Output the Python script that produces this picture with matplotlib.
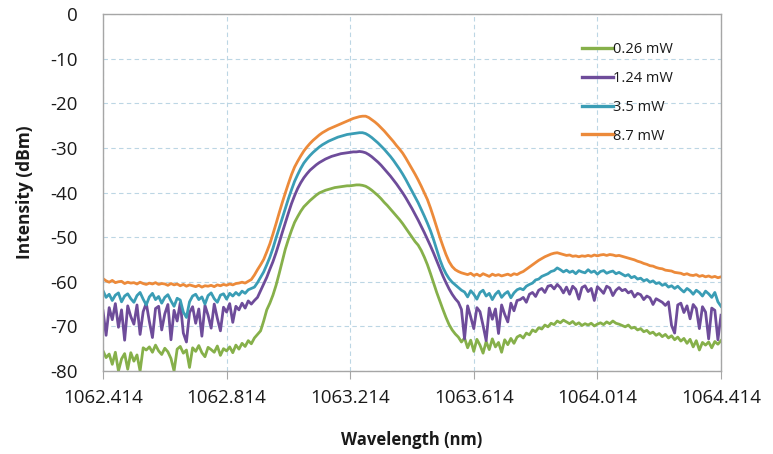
import numpy as np
import matplotlib
matplotlib.use("Agg")
import matplotlib.pyplot as plt

plt.rcParams['font.family'] = ['Open Sans', 'DejaVu Sans']
plt.rcParams['axes.unicode_minus'] = False

wl_start = 1062.414
wl_step = 0.01

series_labels = ["0.26 mW", "1.24 mW", "3.5 mW", "8.7 mW"]
series_colors = ["#86B04A", "#6E4C9A", "#3A9DB5", "#EC8A3A"]

p026 = [
    -75.5, -77.0, -76.2, -78.5, -75.8, -80.0, -77.3, -76.1, -79.6, -75.9,
    -77.8, -76.4, -80.0, -74.8, -75.3, -74.6, -75.8, -74.2, -75.5, -76.3,
    -74.9, -75.7, -77.2, -80.0, -75.1, -74.5, -76.0, -75.3, -79.2, -74.8,
    -75.6, -74.3, -75.9, -76.8, -74.7, -75.2, -75.8, -74.4, -76.5, -75.0,
    -75.5, -74.6, -75.9, -74.2, -75.1, -73.8, -74.5, -73.2, -73.9, -72.6,
    -71.8, -71.0, -68.8, -66.3, -64.8, -63.0, -60.8, -58.2, -55.5, -52.7,
    -50.5, -48.5, -46.7, -45.4, -44.2, -43.2, -42.5, -41.8, -41.2, -40.6,
    -40.1, -39.8, -39.5, -39.3, -39.1, -38.9, -38.8, -38.7, -38.6, -38.5,
    -38.5, -38.4, -38.3, -38.3, -38.4, -38.6, -39.0, -39.5, -40.1, -40.7,
    -41.4, -42.2, -42.9, -43.7, -44.5, -45.3, -46.1, -47.0, -48.0, -49.0,
    -50.0, -51.0, -51.8, -53.0, -54.5, -56.2, -58.2, -60.3, -62.4, -64.3,
    -66.2, -68.0, -69.6, -70.8, -71.7, -72.4, -73.5, -72.6, -74.8, -73.1,
    -75.6, -72.9, -74.2, -76.0, -73.4, -75.2, -72.8, -74.6, -73.6, -75.8,
    -73.0, -74.1, -72.7, -73.8, -72.4, -72.0, -72.6, -71.5, -71.9, -70.8,
    -71.2, -70.3, -70.6, -69.7, -70.1, -69.3, -69.6, -68.8, -69.2, -68.6,
    -69.0, -69.4, -68.9, -69.6, -69.2, -69.8, -69.4, -69.7, -69.3, -69.9,
    -69.5, -69.2, -69.6, -69.0, -69.4, -68.8, -69.3, -69.5, -69.8, -70.1,
    -69.7, -70.4, -70.2, -70.8, -70.5, -71.2, -70.9, -71.6, -71.3, -72.0,
    -71.6, -72.3, -71.8, -72.6, -72.1, -73.0, -72.4, -73.3, -72.7, -73.8,
    -72.9, -74.6, -73.2, -75.3, -73.6, -74.2, -73.5, -74.8, -73.4, -74.0,
    -73.2,
]

p124 = [
    -66.5, -72.0, -65.8, -68.5, -64.9, -70.2, -66.3, -73.1, -65.4, -67.8,
    -69.5, -65.2, -71.8, -66.7, -64.8, -68.9, -72.5, -66.0, -65.5, -70.8,
    -67.2, -65.1, -73.0, -66.4, -68.8, -64.7, -71.5, -73.5, -66.9, -65.6,
    -69.3, -66.1, -72.2, -65.3, -67.5, -70.4, -65.0, -68.2, -71.0, -65.7,
    -66.8, -64.9, -69.1, -65.5, -66.3, -64.8, -65.9, -64.3, -65.0, -64.2,
    -63.5, -62.0, -60.5, -59.0, -57.2, -55.5, -53.5, -51.3, -49.0, -46.8,
    -44.6, -42.5, -40.7, -39.1, -37.8, -36.7, -35.8, -35.0, -34.4, -33.8,
    -33.3, -32.9, -32.5, -32.2, -31.9, -31.7, -31.5, -31.3, -31.2, -31.1,
    -31.0, -30.9, -30.9, -30.8, -30.9, -31.1, -31.5, -32.0, -32.6, -33.2,
    -33.9, -34.7, -35.5, -36.3, -37.2, -38.1, -39.1, -40.1, -41.2, -42.4,
    -43.6, -44.9, -46.2, -47.6, -49.0, -50.5, -52.0, -53.6, -55.3, -57.0,
    -58.7, -60.2, -61.6, -62.8, -63.8, -64.6, -66.2, -72.8, -65.4, -67.9,
    -70.5, -65.8, -66.7, -69.8, -73.2, -65.9, -68.4, -66.1, -71.6, -65.2,
    -67.3, -69.0, -64.8, -66.5, -64.2, -64.0, -63.5, -64.6, -62.8, -62.4,
    -63.3, -61.9, -61.5, -62.4, -61.0, -60.8, -61.6, -60.6, -61.3, -62.5,
    -61.2, -62.8, -61.0, -61.7, -63.9, -61.3, -60.9, -62.2, -61.5, -64.2,
    -61.1, -61.8, -62.6, -61.0, -61.4, -63.1, -61.9, -61.3, -62.0, -61.7,
    -62.5, -62.1, -63.4, -62.6, -62.9, -64.0, -63.2, -63.6, -65.1, -63.8,
    -64.2, -64.6, -65.3, -64.5, -69.8, -71.5, -65.2, -64.8, -66.9, -65.4,
    -68.3, -65.1, -66.0, -70.5, -65.6, -66.8, -72.8, -65.9, -66.4, -73.0,
    -67.5,
]

p35 = [
    -62.0, -63.5, -62.8, -64.2, -63.0, -62.5, -64.5, -63.2, -62.7, -63.8,
    -64.6, -63.1, -62.4, -63.9, -65.2, -63.4, -62.6, -64.0, -63.3, -64.8,
    -63.5, -62.9, -64.3, -65.5, -63.7, -64.1, -66.8, -68.0, -64.5, -63.2,
    -62.8, -64.0, -63.4, -65.0, -63.1, -62.5, -63.8, -64.6, -63.0, -62.7,
    -63.9, -62.6, -63.2, -62.4, -63.0, -62.1, -62.6, -61.8, -61.5, -61.2,
    -60.2, -59.0, -57.8, -56.2, -54.5, -52.5, -50.2, -48.0, -45.8, -43.6,
    -41.4, -39.4, -37.5, -36.0, -34.6, -33.4, -32.5, -31.7, -31.0, -30.4,
    -29.8, -29.3, -28.9, -28.5, -28.2, -27.9, -27.6, -27.4, -27.2, -27.0,
    -26.9, -26.8, -26.7, -26.6, -26.6, -26.8, -27.2, -27.7, -28.3, -28.9,
    -29.6, -30.3, -31.1, -31.9, -32.8, -33.8, -34.8, -35.9, -37.1, -38.4,
    -39.7, -41.0, -42.3, -43.8, -45.3, -46.9, -48.6, -50.6, -52.8, -55.0,
    -56.8, -58.2, -59.3, -60.1, -60.7, -61.3, -61.9, -62.3, -63.4, -62.0,
    -62.8, -63.9, -62.4, -61.9, -63.2, -62.6, -64.0, -62.8, -62.1, -63.5,
    -62.7, -62.2, -63.6, -62.5, -61.8, -61.5, -61.8, -61.0, -60.6, -60.3,
    -59.6, -59.4, -58.8, -58.5, -58.2, -57.7, -57.5, -56.9, -57.3, -57.8,
    -57.4, -57.9, -57.6, -58.2, -57.5, -57.8, -58.0, -57.3, -57.9, -57.6,
    -58.3, -57.7, -57.5, -58.1, -57.8, -57.6, -58.2, -57.9, -58.3, -58.7,
    -58.4, -59.1, -58.8, -59.4, -59.2, -59.8, -59.5, -60.1, -59.8, -60.4,
    -60.2, -60.8, -60.5, -61.2, -60.9, -61.5, -61.0, -61.7, -62.3, -61.5,
    -62.0, -62.8, -61.9, -62.4, -63.2, -62.1, -62.7, -63.5, -62.4, -64.5,
    -65.5,
]

p87 = [
    -59.3, -59.8, -60.1, -59.7, -60.2, -60.0, -59.9, -60.4, -60.1, -60.3,
    -60.2, -60.5, -60.1, -60.4, -60.6, -60.3, -60.5, -60.2, -60.6, -60.4,
    -60.5, -60.8, -60.4, -60.7, -60.5, -60.9, -60.6, -61.0, -60.7, -60.9,
    -61.1, -60.8, -61.2, -60.9, -61.0, -60.8, -61.1, -60.7, -60.9, -60.6,
    -60.8, -60.5, -60.7, -60.4, -60.3, -60.1, -60.3, -59.9, -59.5, -58.5,
    -57.3, -56.2, -55.0, -53.3, -51.5, -49.3, -47.0, -44.6, -42.3, -40.1,
    -38.0, -36.0, -34.3, -33.0, -31.8, -30.7, -29.8, -29.0, -28.3, -27.7,
    -27.1, -26.6, -26.2, -25.8, -25.5, -25.2, -24.9, -24.6, -24.3, -24.0,
    -23.7, -23.4, -23.2, -23.0, -22.9, -22.9, -23.2, -23.7, -24.2, -24.8,
    -25.5, -26.2, -27.0, -27.8, -28.6, -29.5, -30.3, -31.2, -32.3, -33.5,
    -34.7, -35.9, -37.2, -38.6, -40.1, -41.6, -43.5, -45.6, -47.8, -50.0,
    -52.0, -53.9, -55.5, -56.6, -57.3, -57.7, -58.0, -58.2, -58.4, -58.1,
    -58.6, -58.3, -58.7, -58.2, -58.5, -58.8, -58.3, -58.6, -58.4, -58.7,
    -58.5, -58.3, -58.6, -58.2, -58.4, -58.0, -57.7, -57.2, -56.7, -56.2,
    -55.7, -55.2, -54.8, -54.4, -54.1, -53.8, -53.6, -53.5, -53.7, -53.9,
    -54.1, -54.0, -54.3, -54.2, -54.4, -54.2, -54.3, -54.1, -54.3, -54.0,
    -54.2, -54.0, -53.9, -54.1, -53.9, -54.0, -54.2, -54.1, -54.3, -54.5,
    -54.7, -54.9, -55.1, -55.4, -55.6, -55.9, -56.1, -56.4, -56.5, -56.8,
    -57.0, -57.1, -57.4, -57.5, -57.6, -57.9, -58.0, -58.1, -58.4, -58.2,
    -58.5, -58.6, -58.4, -58.8, -58.6, -58.9, -58.7, -59.0, -58.8, -59.1,
    -58.9,
]

series_values = [p026, p124, p35, p87]

x_ticks = [1062.414, 1062.814, 1063.214, 1063.614, 1064.014, 1064.414]
x_tick_labels = ["1062.414", "1062.814", "1063.214", "1063.614", "1064.014", "1064.414"]
y_ticks = [0, -10, -20, -30, -40, -50, -60, -70, -80]

# ---- figure ----
fig = plt.figure(figsize=(7.73, 4.54), dpi=100)
ax = fig.add_axes([103 / 773, 1 - 371 / 454, 618 / 773, 357 / 454])

for vals, lab, col in zip(series_values, series_labels, series_colors):
    y = np.array(vals)
    x = wl_start + wl_step * np.arange(len(y))
    ax.plot(x, y, color=col, lw=2.0, label=lab, solid_joinstyle='round')

ax.set_xlim(x_ticks[0], x_ticks[-1])
ax.set_ylim(-80, 0)
ax.set_xticks(x_ticks)
ax.set_xticklabels(x_tick_labels)
ax.set_yticks(y_ticks)

ax.grid(True, color="#BCD6E4", linestyle=(0, (4, 3)), linewidth=0.8)
ax.set_axisbelow(True)
for s in ax.spines.values():
    s.set_color("#A6A6A6")
    s.set_linewidth(1.0)

ax.tick_params(axis='x', direction='out', length=6, color="#A6A6A6",
               labelsize=13.5, pad=7, labelcolor="#1a1a1a")
ax.tick_params(axis='y', length=0, labelsize=13.5, pad=18, labelcolor="#1a1a1a")

ax.set_xlabel("Wavelength (nm)", fontsize=12, fontweight='bold', color="#1a1a1a")
ax.xaxis.label.set_va('center')
ax.xaxis.set_label_coords(0.5, (371 - 440) / 357)
ax.set_ylabel("Intensity (dBm)", fontsize=12.5, fontweight='bold', color="#1a1a1a")
ax.yaxis.label.set_va('center')
ax.yaxis.set_label_coords((25 - 103) / 618, 0.5)

leg = ax.legend(loc='upper left', bbox_to_anchor=(582 / 773, 1 - 42 / 454),
                bbox_transform=fig.transFigure, frameon=False, fontsize=10.5,
                handlelength=2.1, handletextpad=0.05, labelspacing=0.95,
                borderpad=0, borderaxespad=0)
for t in leg.get_texts():
    t.set_color("#1a1a1a")
for h in leg.get_lines():
    h.set_linewidth(2.4)

fig.savefig("out.png", dpi=100)
